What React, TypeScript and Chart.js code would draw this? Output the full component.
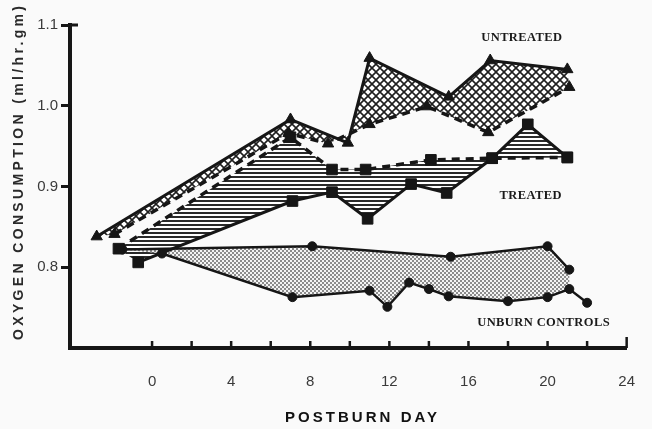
import { useEffect, useRef } from 'react';
import { Chart, registerables } from 'chart.js';

Chart.register(...registerables);

// ---- data ----
const untreatedSolidDays = [-2.8, 7, 9.9, 11, 15, 17.1, 21];
const untreatedSolidValues = [0.838, 0.983, 0.954, 1.059, 1.011, 1.056, 1.045];

const untreatedDashedDays = [-1.9, 6.9, 8.9, 11, 13.9, 17, 21.1];
const untreatedDashedValues = [0.841, 0.966, 0.953, 0.977, 0.999, 0.967, 1.023];

const treatedSolidDays = [-0.7, 7.1, 9.1, 10.9, 13.1, 14.9, 17.2, 19, 21];
const treatedSolidValues = [0.806, 0.882, 0.893, 0.86, 0.903, 0.892, 0.935, 0.977, 0.936];

const treatedDashedDays = [-1.7, 7, 9.1, 10.8, 14.1, 17.2, 21];
const treatedDashedValues = [0.823, 0.961, 0.921, 0.921, 0.933, 0.935, 0.936];

const controlUpperDays = [-1.5, 8.1, 15.1, 20, 21.1];
const controlUpperValues = [0.822, 0.826, 0.813, 0.826, 0.797];

const controlLowerDays = [0.5, 7.1, 11, 11.9, 13, 14, 15, 18, 20, 21.1, 22];
const controlLowerValues = [0.817, 0.763, 0.771, 0.751, 0.781, 0.773, 0.764, 0.758, 0.763, 0.773, 0.756];

const xTickValues = [0, 4, 8, 12, 16, 20, 24];
const xMinorTickValues = [0, 2, 4, 6, 8, 10, 12, 14, 16, 18, 20, 22, 24];
const yTickValues = [0.8, 0.9, 1.0, 1.1];

const seriesLabels = ['UNTREATED', 'TREATED', 'UNBURN CONTROLS'];
const labelDays = [18.7, 19.15, 19.8];
const labelValues = [1.084, 0.888, 0.731];

const xTitle = 'POSTBURN DAY';
const yTitle = 'OXYGEN CONSUMPTION (ml/hr.gm)';

const toPoints = (xs: number[], ys: number[]) => xs.map((x, i) => ({ x, y: ys[i] }));

function makePattern(kind: string): CanvasPattern | string {
  const c = document.createElement('canvas');
  const g = c.getContext('2d');
  if (!g) return '#ccc';
  if (kind === 'cross') {
    const s = 8;
    c.width = s;
    c.height = s;
    g.fillStyle = '#ffffff';
    g.fillRect(0, 0, s, s);
    g.strokeStyle = '#1e1e1e';
    g.lineWidth = 1.6;
    for (const k of [-s, 0, s]) {
      g.beginPath();
      g.moveTo(k, 0);
      g.lineTo(k + s, s);
      g.moveTo(k + s, 0);
      g.lineTo(k, s);
      g.stroke();
    }
  } else if (kind === 'hlines') {
    c.width = 4;
    c.height = 4;
    g.fillStyle = '#ffffff';
    g.fillRect(0, 0, 4, 4);
    g.fillStyle = '#2a2a2a';
    g.fillRect(0, 0, 4, 2);
  } else {
    c.width = 4;
    c.height = 4;
    g.fillStyle = '#f4f4f4';
    g.fillRect(0, 0, 4, 4);
    g.fillStyle = '#8c8c8c';
    g.fillRect(0, 0, 2, 2);
    g.fillRect(2, 2, 2, 2);
  }
  const p = g.createPattern(c, 'repeat');
  return p || '#ccc';
}

export default function App() {
  const ref = useRef<HTMLCanvasElement | null>(null);

  useEffect(() => {
    const canvas = ref.current;
    if (!canvas) return;
    const ink = '#161616';

    const fills = [
      { a: 2, b: 3, kind: 'hlines', trim: false },
      { a: 0, b: 1, kind: 'cross', trim: false },
      { a: 4, b: 5, kind: 'dots', trim: true },
    ];

    const fillPlugin = {
      id: 'bandFills',
      beforeDatasetsDraw(chart: any) {
        const { ctx, scales } = chart;
        const xs = scales.x;
        const ys = scales.y;
        for (const f of fills) {
          const A = chart.data.datasets[f.a].data as { x: number; y: number }[];
          let B = chart.data.datasets[f.b].data as { x: number; y: number }[];
          if (f.trim) {
            const mn = Math.min(...A.map((p) => p.x));
            const mx = Math.max(...A.map((p) => p.x));
            B = B.filter((p) => p.x >= mn - 1e-9 && p.x <= mx + 1e-9);
          }
          ctx.save();
          ctx.beginPath();
          A.forEach((p, i) => {
            const px = xs.getPixelForValue(p.x);
            const py = ys.getPixelForValue(p.y);
            if (i === 0) ctx.moveTo(px, py);
            else ctx.lineTo(px, py);
          });
          for (let i = B.length - 1; i >= 0; i--) {
            ctx.lineTo(xs.getPixelForValue(B[i].x), ys.getPixelForValue(B[i].y));
          }
          ctx.closePath();
          ctx.fillStyle = makePattern(f.kind);
          ctx.fill('evenodd');
          ctx.restore();
        }
      },
    };

    const decorPlugin = {
      id: 'decor',
      beforeDraw(chart: any) {
        const { ctx, width, height } = chart;
        ctx.save();
        ctx.fillStyle = '#fafafa';
        ctx.fillRect(0, 0, width, height);
        ctx.restore();
      },
      afterDraw(chart: any) {
        const { ctx, scales, chartArea } = chart;
        const xs = scales.x;
        const ys = scales.y;
        ctx.save();
        // inward x ticks
        ctx.strokeStyle = ink;
        ctx.lineWidth = 2.5;
        for (const v of xMinorTickValues) {
          const px = xs.getPixelForValue(v);
          const len = v === 24 ? 11 : 7;
          ctx.beginPath();
          ctx.moveTo(px, chartArea.bottom);
          ctx.lineTo(px, chartArea.bottom - len);
          ctx.stroke();
        }
        // cap at top of y axis
        ctx.lineWidth = 3;
        const topPx = ys.getPixelForValue(1.1);
        ctx.beginPath();
        ctx.moveTo(chartArea.left, topPx);
        ctx.lineTo(chartArea.left + 8, topPx);
        ctx.stroke();

        // series labels
        ctx.fillStyle = '#1a1a1a';
        ctx.font = 'bold 12.5px "Liberation Serif", "DejaVu Serif", serif';
        ctx.textAlign = 'center';
        ctx.textBaseline = 'middle';
        (ctx as any).letterSpacing = '0.4px';
        seriesLabels.forEach((t, i) => {
          ctx.fillText(t, xs.getPixelForValue(labelDays[i]), ys.getPixelForValue(labelValues[i]));
        });
        (ctx as any).letterSpacing = '0px';

        // x title
        ctx.font = 'bold 15px "Liberation Sans", Arial, sans-serif';
        ctx.fillStyle = '#111';
        const xw0 = ctx.measureText(xTitle).width;
        const xls = Math.max(0, (152 - xw0) / (xTitle.length - 1));
        (ctx as any).letterSpacing = xls + 'px';
        ctx.textAlign = 'center';
        ctx.fillText(xTitle, 361 + xls / 2, 418);
        (ctx as any).letterSpacing = '0px';

        // y title
        ctx.font = 'bold 14px "Liberation Sans", Arial, sans-serif';
        ctx.fillStyle = '#2a2a2a';
        const yw0 = ctx.measureText(yTitle).width;
        const yls = Math.max(0, (334 - yw0) / (yTitle.length - 1));
        ctx.translate(19, 173);
        ctx.rotate(-Math.PI / 2);
        (ctx as any).letterSpacing = yls + 'px';
        ctx.textAlign = 'center';
        ctx.fillText(yTitle, yls / 2, 0);
        ctx.restore();
      },
    };

    const lineBase = {
      borderColor: ink,
      pointBackgroundColor: ink,
      pointBorderColor: ink,
      pointBorderWidth: 1,
      tension: 0,
      fill: false,
      clip: false as any,
    };

    const chart = new Chart(canvas, {
      type: 'line',
      data: {
        datasets: [
          { ...lineBase, label: 'Untreated A', data: toPoints(untreatedSolidDays, untreatedSolidValues), borderWidth: 3, pointStyle: 'triangle', pointRadius: 6.5 },
          { ...lineBase, label: 'Untreated B', data: toPoints(untreatedDashedDays, untreatedDashedValues), borderWidth: 3.5, borderDash: [8, 6], pointStyle: 'triangle', pointRadius: 6.5 },
          { ...lineBase, label: 'Treated A', data: toPoints(treatedSolidDays, treatedSolidValues), borderWidth: 3, pointStyle: 'rect', pointRadius: 7.5 },
          { ...lineBase, label: 'Treated B', data: toPoints(treatedDashedDays, treatedDashedValues), borderWidth: 3.5, borderDash: [8, 6], pointStyle: 'rect', pointRadius: 7.5 },
          { ...lineBase, label: 'Control A', data: toPoints(controlUpperDays, controlUpperValues), borderWidth: 2.5, pointStyle: 'circle', pointRadius: 4.5 },
          { ...lineBase, label: 'Control B', data: toPoints(controlLowerDays, controlLowerValues), borderWidth: 2.5, pointStyle: 'circle', pointRadius: 4.5 },
        ],
      },
      options: {
        animation: false,
        responsive: false,
        maintainAspectRatio: false,
        events: [],
        layout: { padding: { left: 0, right: 12, top: 25, bottom: 0 } },
        plugins: { legend: { display: false }, tooltip: { enabled: false }, title: { display: false } },
        scales: {
          x: {
            type: 'linear',
            min: -4.15,
            max: 24,
            afterBuildTicks: (s: any) => {
              s.ticks = xTickValues.map((v) => ({ value: v }));
            },
            afterFit: (s: any) => {
              s.height = 81;
            },
            grid: { display: false },
            border: { display: true, width: 4, color: ink },
            ticks: {
              padding: 17,
              autoSkip: false,
              maxRotation: 0,
              color: '#3a3a3a',
              font: { size: 15, family: '"Liberation Sans", Arial, sans-serif' },
              callback: (v: any) => String(v),
            },
          },
          y: {
            type: 'linear',
            min: 0.7,
            max: 1.1,
            afterBuildTicks: (s: any) => {
              s.ticks = yTickValues.map((v) => ({ value: v }));
            },
            afterFit: (s: any) => {
              s.width = 70;
            },
            grid: { drawOnChartArea: false, drawTicks: true, tickLength: 9, lineWidth: 3, color: ink },
            border: { display: true, width: 4, color: ink },
            ticks: {
              padding: 3,
              color: '#3a3a3a',
              font: { size: 15, family: '"Liberation Sans", Arial, sans-serif' },
              callback: (v: any) => Number(v).toFixed(1),
            },
          },
        },
      },
      plugins: [fillPlugin, decorPlugin],
    });

    return () => {
      chart.destroy();
    };
  }, []);

  return (
    <div style={{ position: 'fixed', left: 0, top: 0, width: 652, height: 429 }}>
      <canvas ref={ref} width={652} height={429} style={{ display: 'block', width: 652, height: 429 }} />
    </div>
  );
}
